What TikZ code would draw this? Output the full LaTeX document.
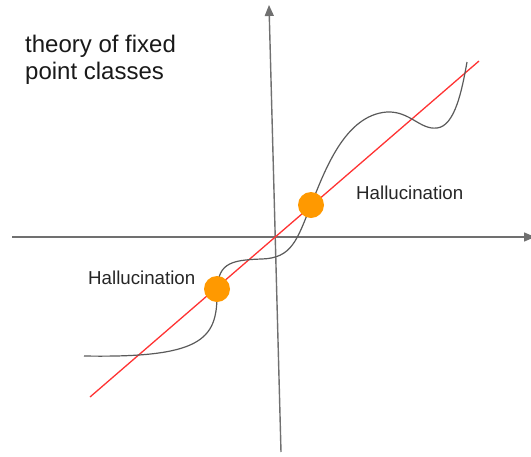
\documentclass[tikz,border=0pt]{standalone}
\usepackage{fontspec}
\setmainfont{Liberation Sans}
\usetikzlibrary{arrows.meta}
\definecolor{axisgray}{HTML}{707070}
\definecolor{curvegray}{HTML}{5A5A5A}
\definecolor{fixred}{HTML}{FF3333}
\definecolor{dotorange}{HTML}{FF9900}
\tikzset{
  axisline/.style={draw=axisgray, line width=1.4pt, -{Triangle[length=11pt,width=9pt]}},
  curveline/.style={draw=curvegray, line width=1.2pt},
  diagline/.style={draw=fixred, line width=1.3pt},
  fixdot/.style={circle, fill=dotorange, minimum size=26pt, inner sep=0pt},
  halluc/.style={font=\fontsize{18.7}{22}\selectfont, text=black!85, anchor=base west, inner sep=0pt},
  titletext/.style={font=\fontsize{24}{27}\selectfont, text=black!90, anchor=base west, align=left, inner sep=0pt}
}
\begin{document}
\begin{tikzpicture}[x=1pt,y=-1pt]
\useasboundingbox (0,0) rectangle (531,456);
% axes
\coordinate (xl) at (12,237);
\coordinate (xr) at (535,237);
\coordinate (yb) at (281,452);
\coordinate (yt) at (269,5);
\draw[axisline] (xl) -- (xr);
\draw[axisline] (yb) -- (yt);
% red line
\coordinate (ra) at (90,397);
\coordinate (rb) at (479,61);
\draw[diagline] (ra) -- (rb);
% curve
\coordinate (c0) at (84,356);
\coordinate (c1) at (217,295);
\coordinate (c2) at (262,259);
\coordinate (c3) at (311,205);
\coordinate (c4) at (387,112);
\coordinate (c5) at (437,128);
\coordinate (c6) at (467,62);
\draw[curveline] (c0) .. controls (200,358) and (217,340) .. (c1)
  .. controls (217,264) and (228,260) .. (c2)
  .. controls (292,258) and (297,240) .. (c3)
  .. controls (325,170) and (345,115) .. (c4)
  .. controls (410,111) and (420,130) .. (c5)
  .. controls (455,126) and (462,90) .. (c6);
% dots
\node[fixdot] (d1) at (311,205) {};
\node[fixdot] (d2) at (217,289) {};
% labels
\node[halluc] (h1) at (356,199) {Hallucination};
\node[halluc] (h2) at (88,284) {Hallucination};
\node[titletext] (title) at (25,79) {theory of fixed\\point classes};
\end{tikzpicture}
\end{document}
